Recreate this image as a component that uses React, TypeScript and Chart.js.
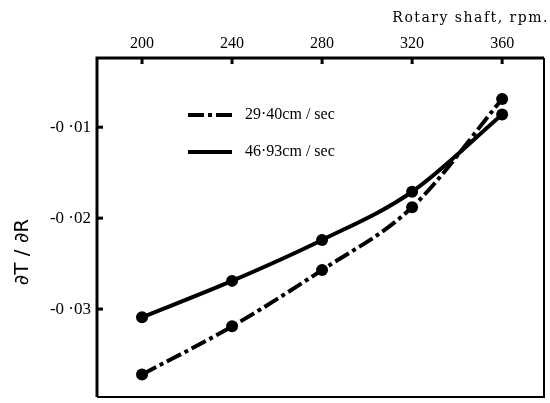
import React, { useEffect, useRef } from "react";
import { Chart, registerables } from "chart.js";

Chart.register(...registerables);

const rpm = [200, 240, 280, 320, 360];
const slowSeries = [-0.0372, -0.0319, -0.0257, -0.0188, -0.0069];
const fastSeries = [-0.0309, -0.0269, -0.0224, -0.0171, -0.0086];
const xTicks = [200, 240, 280, 320, 360];
const yTicks = [-0.03, -0.02, -0.01];
const seriesLabels = ["29·40cm / sec", "46·93cm / sec"];
const xTitle = "Rotary shaft, rpm.";
const yTitle = "∂T / ∂R";

const DASH = [16, 4, 4, 4];

const framePlugin = {
  id: "frame",
  afterDraw(chart: any) {
    const { ctx, chartArea: a, scales } = chart;
    ctx.save();
    ctx.strokeStyle = "#000";
    ctx.lineCap = "butt";
    // frame
    ctx.lineWidth = 3;
    ctx.beginPath();
    ctx.moveTo(a.left, a.bottom);
    ctx.lineTo(a.left, a.top);
    ctx.lineTo(a.right, a.top);
    ctx.stroke();
    ctx.lineWidth = 2;
    ctx.beginPath();
    ctx.moveTo(a.right, a.top);
    ctx.lineTo(a.right, a.bottom);
    ctx.lineTo(a.left, a.bottom);
    ctx.stroke();
    // inside ticks
    ctx.lineWidth = 3;
    xTicks.forEach((v) => {
      const x = scales.x.getPixelForValue(v);
      ctx.beginPath();
      ctx.moveTo(x, a.top);
      ctx.lineTo(x, a.top + 6);
      ctx.stroke();
    });
    yTicks.forEach((v) => {
      const y = scales.y.getPixelForValue(v);
      ctx.beginPath();
      ctx.moveTo(a.left, y);
      ctx.lineTo(a.left + 6, y);
      ctx.stroke();
    });
    // legend
    ctx.lineWidth = 4;
    ctx.setLineDash(DASH);
    ctx.beginPath();
    ctx.moveTo(a.left + 91, a.top + 57);
    ctx.lineTo(a.left + 135, a.top + 57);
    ctx.stroke();
    ctx.setLineDash([]);
    ctx.beginPath();
    ctx.moveTo(a.left + 91, a.top + 94);
    ctx.lineTo(a.left + 135, a.top + 94);
    ctx.stroke();
    ctx.fillStyle = "#000";
    ctx.font = "16px 'Liberation Serif'";
    ctx.textBaseline = "middle";
    ctx.textAlign = "left";
    ctx.fillText(seriesLabels[0], a.left + 148, a.top + 57);
    ctx.fillText(seriesLabels[1], a.left + 148, a.top + 94);
    // x title
    ctx.save();
    ctx.textAlign = "right";
    ctx.font = "14px 'DejaVu Serif'";
    (ctx as any).letterSpacing = "1.5px";
    ctx.fillText(xTitle, 549, 18);
    ctx.restore();
    // y title
    ctx.save();
    ctx.translate(23, 252);
    ctx.rotate(-Math.PI / 2);
    ctx.textAlign = "center";
    ctx.font = "20px 'DejaVu Sans'";
    ctx.fillText(yTitle, 0, 0);
    ctx.restore();
    ctx.restore();
  },
};

export default function App() {
  const ref = useRef<HTMLCanvasElement>(null);
  useEffect(() => {
    if (!ref.current) return;
    const chart = new Chart(ref.current, {
      type: "line",
      data: {
        datasets: [
          {
            label: seriesLabels[0],
            data: rpm.map((x, i) => ({ x, y: slowSeries[i] })),
            borderColor: "#000",
            backgroundColor: "#000",
            borderWidth: 4,
            borderDash: DASH,
            pointRadius: 6,
            pointBackgroundColor: "#000",
            pointBorderWidth: 0,
            tension: 0.3,
            cubicInterpolationMode: "monotone",
          },
          {
            label: seriesLabels[1],
            data: rpm.map((x, i) => ({ x, y: fastSeries[i] })),
            borderColor: "#000",
            backgroundColor: "#000",
            borderWidth: 4,
            pointRadius: 6,
            pointBackgroundColor: "#000",
            pointBorderWidth: 0,
            tension: 0.3,
            cubicInterpolationMode: "monotone",
          },
        ],
      },
      options: {
        animation: false,
        responsive: true,
        maintainAspectRatio: false,
        layout: { padding: { top: 0, right: 3, bottom: 2, left: 0 } },
        plugins: { legend: { display: false }, tooltip: { enabled: false } },
        scales: {
          x: {
            type: "linear",
            position: "top",
            min: 180,
            max: 378.6,
            afterBuildTicks: (s: any) => {
              s.ticks = xTicks.map((v) => ({ value: v }));
            },
            afterFit: (s: any) => {
              s.height = 58;
              s.paddingLeft = 0;
              s.paddingRight = 0;
              s.paddingTop = 0;
              s.paddingBottom = 0;
            },
            grid: { display: false, drawTicks: false },
            border: { display: false },
            ticks: {
              color: "#000",
              padding: 5,
              font: { family: "'Liberation Serif'", size: 16 },
              callback: (v: any) => String(v),
            },
          },
          y: {
            type: "linear",
            min: -0.03967,
            max: -0.00239,
            afterBuildTicks: (s: any) => {
              s.ticks = yTicks.map((v) => ({ value: v }));
            },
            afterFit: (s: any) => {
              s.width = 97;
              s.paddingTop = 0;
              s.paddingBottom = 0;
              s.paddingLeft = 0;
              s.paddingRight = 0;
            },
            grid: { display: false, drawTicks: false },
            border: { display: false },
            ticks: {
              color: "#000",
              padding: 6,
              font: { family: "'Liberation Serif'", size: 17 },
              callback: (v: any) => Number(v).toFixed(2).replace(".", " ·"),
            },
          },
        },
      },
      plugins: [framePlugin],
    });
    return () => chart.destroy();
  }, []);
  return (
    <div style={{ position: "fixed", left: 0, top: 0, width: 550, height: 403, background: "#fff" }}>
      <canvas ref={ref} />
    </div>
  );
}
